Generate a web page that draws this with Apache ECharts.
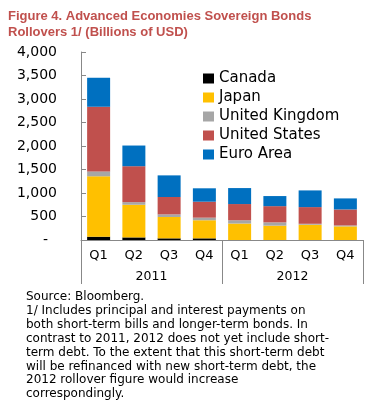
<!DOCTYPE html>
<html>
<head>
<meta charset="utf-8">
<script src="https://cdn.jsdelivr.net/npm/echarts@6/dist/echarts.min.js"></script>
<style>
html,body{margin:0;padding:0;background:#fff;}
#c{width:369px;height:403px;}
</style>
</head>
<body>
<div id="c"></div>
<script>
var quarters = ['Q1','Q2','Q3','Q4','Q1','Q2','Q3','Q4'];
var years = ['2011','2012'];
var yTicks = [0,500,1000,1500,2000,2500,3000,3500,4000];
var canada = [70, 55, 35, 35, 0, 0, 0, 0];
var japan = [1285, 695, 455, 385, 350, 305, 325, 290];
var uk = [105, 55, 55, 55, 70, 70, 20, 20];
var us = [1375, 765, 370, 340, 345, 345, 355, 340];
var euro = [617, 440, 460, 285, 340, 215, 355, 235];

var titleText = 'Figure 4. Advanced Economies Sovereign Bonds\nRollovers 1/ (Billions of USD)';
var noteText = 'Source: Bloomberg.\n1/ Includes principal and interest payments on\nboth short-term bills and longer-term bonds. In\ncontrast to 2011, 2012 does not yet include short-\nterm debt. To the extent that this short-term debt\nwill be refinanced with new short-term debt, the\n2012 rollover figure would increase\ncorrespondingly.';

var chart = echarts.init(document.getElementById('c'), null, {renderer:'canvas'});
var font = 'DejaVu Sans';
function s(name, data, color){
  return {name:name, type:'bar', stack:'t', data:data, barWidth:23,
    itemStyle:{color:color}, emphasis:{disabled:true}};
}
chart.setOption({
  animation:false,
  backgroundColor:'#ffffff',
  title:[{
    text:titleText, left:3, top:3,
    textStyle:{fontFamily:'Liberation Sans', fontWeight:'bold', fontSize:13, color:'#C0504D', lineHeight:16.5}
  },{
    text:noteText, left:21, top:285,
    textStyle:{fontFamily:font, fontWeight:'normal', fontSize:12, color:'#000', lineHeight:13.9}
  }],
  legend:{
    orient:'vertical', left:198, top:66, itemWidth:11, itemHeight:10, itemGap:4,
    icon:'rect',
    textStyle:{fontFamily:font, fontSize:15, color:'#000', lineHeight:15},
    data:['Canada','Japan','United Kingdom','United States','Euro Area']
  },
  grid:{left:81, right:6, top:52, bottom:163},
  xAxis:[{
    type:'category', data:quarters, position:'bottom',
    axisLine:{lineStyle:{color:'#888'}},
    axisTick:{show:false},
    axisLabel:{fontFamily:font, fontSize:13, color:'#000', margin:9}
  },{
    type:'category', data:years, position:'bottom', offset:0,
    axisLine:{show:false},
    axisTick:{show:true, length:44, lineStyle:{color:'#888'}},
    axisLabel:{fontFamily:font, fontSize:12.5, color:'#000', margin:30}
  }],
  yAxis:{
    type:'value', min:yTicks[0], max:yTicks[yTicks.length-1], interval:500,
    axisLine:{show:true, lineStyle:{color:'#888'}},
    axisTick:{show:true, inside:true, length:5, lineStyle:{color:'#888'}},
    splitLine:{show:false},
    axisLabel:{fontFamily:font, fontSize:14, color:'#000', margin:24,
      formatter:function(v){ return v===0 ? '-  ' : v.toLocaleString('en-US'); }}
  },
  series:[
    s('Canada', canada, '#000000'),
    s('Japan', japan, '#FFC000'),
    s('United Kingdom', uk, '#A6A6A6'),
    s('United States', us, '#C0504D'),
    s('Euro Area', euro, '#0070C0')
  ]
});
</script>
</body>
</html>
